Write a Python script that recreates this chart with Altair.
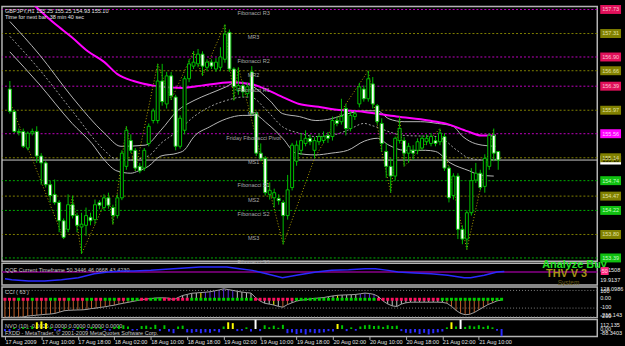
import json
import altair as alt
import pandas as pd

FONT = "Liberation Sans"
SMALL = 5.6
TXT = "#c8c8c8"
GREEN = "#00c000"

# ---------------- data ----------------
time_labels = ["17 Aug 2009", "17 Aug 10:00", "17 Aug 18:00", "18 Aug 02:00", "18 Aug 10:00",
               "18 Aug 18:00", "19 Aug 02:00", "19 Aug 10:00", "19 Aug 18:00", "20 Aug 02:00",
               "20 Aug 10:00", "20 Aug 18:00", "21 Aug 02:00", "21 Aug 10:00"]

opens = [
    156.34, 155.95, 155.60, 155.60, 155.31, 155.57, 155.60, 155.17, 155.05, 154.67,
    154.50, 154.36, 154.04, 153.89, 154.32, 154.13, 153.93, 153.96, 154.10, 154.06,
    154.36, 154.27, 154.44, 154.27, 154.13, 154.44, 154.99, 155.44, 155.27, 154.99,
    154.96, 155.39, 155.79, 155.79, 156.48, 156.08, 156.57, 156.20, 155.34, 155.62,
    156.52, 156.74, 156.78, 156.95, 156.72, 156.81, 156.69, 156.72, 156.86, 157.33,
    156.69, 156.31, 156.40, 156.26, 156.64, 155.91, 155.22, 155.13, 154.50, 154.44,
    154.43, 154.36, 154.13, 154.62, 155.08, 155.27, 155.39, 155.48, 155.27, 155.42,
    155.44, 155.53, 155.51, 155.79, 155.77, 156.00, 155.65, 155.86, 156.08, 156.34,
    156.17, 156.43, 156.05, 155.74, 155.25, 154.99, 154.82, 155.44, 155.44, 155.22,
    155.27, 155.27, 155.31, 155.42, 155.39, 155.44, 155.42, 155.51, 154.96, 154.48,
    154.82, 153.89, 153.72, 154.18, 154.75, 154.87, 154.64, 154.99, 155.53, 155.25]
closes = [
    155.95, 155.60, 155.58, 155.34, 155.57, 155.60, 155.17, 155.05, 154.67, 154.48,
    154.36, 154.04, 153.75, 154.32, 154.13, 153.96, 153.98, 154.13, 154.04, 154.32,
    154.31, 154.44, 154.31, 154.13, 154.44, 155.22, 155.62, 155.27, 154.96, 154.91,
    155.27, 155.69, 155.96, 156.48, 156.12, 156.57, 156.22, 155.34, 155.83, 156.52,
    156.78, 156.81, 156.95, 156.74, 156.81, 156.74, 156.81, 156.90, 157.30, 156.69,
    156.38, 156.40, 156.29, 156.38, 155.91, 155.22, 155.13, 154.53, 154.57, 154.53,
    154.39, 154.13, 154.58, 155.36, 155.36, 155.44, 155.48, 155.42, 155.44, 155.51,
    155.51, 155.48, 155.79, 155.74, 155.86, 155.65, 155.88, 155.91, 156.38, 156.17,
    156.52, 156.08, 155.77, 155.39, 154.99, 154.82, 155.48, 155.65, 155.22, 155.34,
    155.22, 155.42, 155.48, 155.48, 155.51, 155.39, 155.57, 154.96, 154.44, 154.82,
    153.89, 153.72, 154.18, 154.74, 154.87, 154.62, 155.13, 155.53, 155.22, 155.10]
highs = [
    156.48, 155.98, 155.65, 155.65, 155.60, 155.65, 155.69, 155.22, 155.08, 154.74,
    154.76, 154.40, 154.08, 154.50, 154.48, 154.18, 154.18, 154.27, 154.18, 154.41,
    154.40, 154.50, 154.53, 154.32, 154.50, 155.27, 155.69, 155.55, 155.31, 155.05,
    155.31, 155.74, 156.00, 156.78, 156.78, 156.64, 156.64, 156.24, 155.88, 156.57,
    156.86, 157.00, 157.04, 157.00, 156.86, 156.86, 156.88, 157.07, 157.47, 157.38,
    156.72, 156.72, 156.48, 156.45, 156.74, 155.95, 155.39, 155.17, 154.71, 154.60,
    154.50, 154.40, 154.84, 155.40, 155.44, 155.57, 155.62, 155.55, 155.50, 155.57,
    155.60, 155.59, 155.86, 155.86, 156.17, 156.08, 155.95, 155.96, 156.45, 156.40,
    156.66, 156.55, 156.08, 155.83, 155.39, 155.13, 155.51, 155.86, 155.50, 155.40,
    155.36, 155.48, 155.53, 155.55, 155.57, 155.50, 155.65, 155.57, 155.00, 154.87,
    154.87, 153.96, 154.22, 154.96, 155.05, 154.93, 155.20, 155.57, 155.65, 155.25]
lows = [
    155.91, 155.57, 155.53, 155.31, 155.27, 155.53, 155.05, 154.67, 154.62, 154.36,
    154.32, 153.84, 153.72, 153.84, 154.08, 153.84, 153.46, 153.78, 153.96, 153.98,
    154.24, 154.22, 154.25, 153.98, 154.08, 154.40, 154.93, 155.22, 154.91, 154.87,
    154.91, 155.34, 155.74, 155.74, 156.05, 156.00, 156.15, 155.27, 155.30, 155.55,
    156.46, 156.69, 156.72, 156.57, 156.65, 156.69, 156.64, 156.66, 156.80, 156.64,
    156.14, 156.24, 156.20, 156.20, 155.88, 155.17, 155.08, 154.48, 154.41, 154.27,
    154.32, 153.63, 154.06, 154.57, 155.00, 155.19, 155.34, 155.36, 155.13, 155.36,
    155.39, 155.40, 155.44, 155.69, 155.72, 155.53, 155.60, 155.80, 156.02, 156.12,
    156.12, 156.00, 155.72, 155.25, 154.79, 154.53, 154.74, 155.39, 154.99, 155.05,
    155.10, 155.20, 155.27, 155.36, 155.34, 155.34, 155.36, 154.91, 154.36, 154.41,
    153.72, 153.63, 153.54, 154.13, 154.70, 154.57, 154.53, 154.93, 155.08, 154.93]

ma_x = [5.5, 10.2, 13.9, 17.4, 21.1, 24, 27.6, 32, 38.5, 42.8, 49.3, 53.7, 60.9, 64.6, 68.9,
        71.7, 79.1, 86.3, 93.5, 97.2, 102.2, 105.2, 108.5]
ma_y = [157.80, 157.47, 157.24, 157.00, 156.81, 156.60, 156.48, 156.40, 156.36, 156.40, 156.46,
        156.43, 156.20, 156.08, 156.03, 155.99, 155.94, 155.86, 155.79, 155.74, 155.60, 155.53, 155.53]

up_x = [0, 6.5, 13.9, 21.1, 24.8, 30.2, 33.7, 37.4, 41.1, 44.6, 48.3, 50.4, 54.1, 58, 60.9, 64.6,
        68.3, 71.7, 75.4, 79.1, 82, 84.6, 88, 91.7, 95.4, 98.9, 101.1, 102.6, 105.4, 108.5]
up_y = [157.52, 156.95, 156.20, 155.57, 155.34, 155.36, 155.62, 155.96, 156.14, 156.26, 156.38,
        156.46, 156.39, 156.14, 155.91, 155.86, 155.79, 155.82, 155.91, 155.96, 155.96, 155.82,
        155.77, 155.77, 155.74, 155.69, 155.51, 155.43, 155.36, 155.34]
mid_x = [0, 6.5, 13.9, 21.1, 23.3, 26.5, 30.9, 33.7, 37.4, 41.1, 44.6, 48.3, 52, 53.7, 57.4, 60.9,
         64.6, 68.3, 71.7, 75.4, 79.1, 80.9, 88, 95.4, 99.8, 102.6, 106.3, 109.8]
mid_y = [157.26, 156.69, 155.96, 155.27, 155.13, 155.10, 155.17, 155.39, 155.60, 155.86, 156.03,
         156.14, 156.20, 156.20, 155.96, 155.68, 155.57, 155.51, 155.53, 155.62, 155.74, 155.70,
         155.53, 155.51, 155.27, 155.13, 155.10, 155.13]
lo_x = [0, 6.5, 13.9, 18.3, 21.1, 23.9, 27, 28.7, 30.9, 33.7, 37.4, 38.9, 41.1, 44.6, 48.3, 52,
        54.8, 57.4, 60.9, 63.9, 68.3, 71.7, 75.4, 79.1, 82, 84.6, 88, 92.8, 95, 98.3, 102.6, 104.8, 108]
lo_y = [156.99, 156.43, 155.74, 155.39, 155.10, 154.91, 154.87, 154.91, 154.99, 155.17, 155.22,
        155.27, 155.51, 155.68, 155.82, 155.88, 155.88, 155.74, 155.48, 155.22, 155.19, 155.22,
        155.27, 155.43, 155.48, 155.36, 155.27, 155.27, 155.25, 155.05, 154.91, 154.84, 154.82]

zz_x = [0, 12, 14, 16, 22, 23, 26, 28, 33, 36, 41, 43, 48, 50, 51, 61, 68, 75, 80, 83, 85, 87, 88,
        96, 102, 108]
zz_y = [156.12, 153.72, 154.48, 153.46, 154.49, 153.97, 155.69, 154.91, 156.78, 156.15, 157.00,
        156.57, 157.47, 156.14, 156.72, 153.63, 155.13, 156.08, 156.66, 155.25, 154.53, 155.86,
        154.99, 155.65, 153.54, 155.65]

level_names = ["Fibonacci R3", "MR3", "Fibonacci R2", "MR2", "Fibonacci R1", "MR1",
               "Friday  Fibonacci Pivot", "MS1", "Fibonacci S1", "MS2", "Fibonacci S2", "MS3",
               "Fibonacci S3"]
level_prices = [157.73, 157.31, 156.90, 156.66, 156.39, 155.97, 155.56, 155.14, 154.74, 154.47,
                154.22, 153.80, 153.39]
level_kinds = ["fibR", "mr", "fibR", "mr", "fibR", "mr", "pivot", "ms", "fibS", "ms", "fibS",
               "ms", "fibS"]
price_ticks = [157.55, 157.20, 156.85, 156.50, 156.15, 155.80, 155.45, 155.10, 154.75, 154.40,
               154.05, 153.70]
bid_price = 155.10

qqe_x = [0, 1.5, 5.2, 8.7, 12.4, 16.1, 19.6, 22.6, 26.1, 28.3, 32, 37, 42.8, 48.7, 51.5, 54.3,
         57.4, 60.9, 64.6, 68.3, 71.7, 75.4, 79.1, 81.3, 84.1, 86.3, 90, 93.5, 97.2, 100.8, 102.2,
         105.2, 108, 109.6]
qqe_y = [35.1, 32.9, 30.0, 30.0, 32.9, 37.4, 46.2, 50.0, 52.2, 52.2, 53.8, 57.3, 61.1, 61.1, 57.3,
         53.8, 46.2, 37.4, 44.0, 50.0, 53.8, 55.1, 57.3, 57.3, 53.8, 50.0, 47.8, 46.2, 42.7, 37.4,
         37.4, 42.7, 50.0, 51.5]
qqe_level = 50

cci_vals = [
    -205, -205, -205, -205, -200, -190, -185, -180, -175, -170,
    -167, -160, -145, -130, -125, -123, -121, -120, -115, -105,
    -100, -92, -85, -75, -67, -55, -45, -35, -25, -15,
    -5, 3, 8, 14, 16, 16, 12, -7, 20, 43,
    55, 68, 72, 76, 80, 85, 95, 105, 119, 110,
    101, 90, 82, 75, 70, 20, -20, -45, -55, -65,
    -80, -90, -60, -40, -20, -10, -5, 5, 10, 15,
    20, 30, 38, 45, 48, 50, 52, 55, 62, 70,
    65, 55, 30, -20, -53, -75, -82, -55, -40, -33,
    -33, -33, -33, -33, -33, -33, -35, -45, -80, -125,
    -160, -175, -170, -150, -120, -90, -60, -40, -18, -8]
cci_color_runs = [("o", 38), ("w", 5), ("y", 1), ("p", 7), ("w", 8), ("y", 1), ("w", 1), ("o", 2),
                  ("w", 10), ("y", 1), ("w", 4), ("p", 4), ("w", 15), ("o", 13)]
cci_dot_runs = [("p", 3), ("g", 1), ("p", 2), ("g", 1), ("p", 3), ("g", 2), ("p", 2), ("g", 1),
                ("p", 3), ("g", 2), ("p", 2), ("g", 3), ("p", 2), ("g", 3), ("p", 2), ("g", 3),
                ("p", 2), ("p", 4), ("g", 14), ("p", 9), ("g", 18), ("p", 14), ("g", 14)]
cci_levels = [100, -100, -200]

nvo_vals = [
    -25, -30, 15, -15, 20, 10, 30, 80, 90, 70,
    20, -20, -25, 15, 10, -15, 20, 15, -15, 25,
    10, 20, -15, -20, 25, 40, 45, 30, -20, -15,
    35, 40, 20, 50, -25, 45, -30, -50, 30, 40,
    -40, -45, -35, -50, -40, -45, -25, -40, 30, 80,
    70, -25, -20, 20, -30, 110, -25, 45, 20, 40,
    15, 50, -50, -40, -60, -45, -65, -40, -50, -45,
    -40, -25, -30, 60, 45, -25, 20, -20, 30, 45,
    50, 35, 40, 25, 45, 35, 40, -25, -45, -50,
    -40, -60, -45, -65, -50, -40, -30, 20, 80, 30,
    110, 25, 40, 30, 45, 25, 40, 20, -20, -85]
nvo_yellow = [7, 8, 9, 49, 50, 73, 98]
nvo_white = [55, 100]

# ---------------- helpers ----------------
N = len(opens)
W = 601
XS = alt.Scale(domain=[-0.652, 130.0], nice=False, zero=False)
PY = alt.Scale(domain=[153.334, 157.780], nice=False, zero=False)


def xq(field="i"):
    return alt.X(f"{field}:Q", scale=XS, axis=None)


def label(txt, x, y, color=TXT, size=SMALL, align="left", weight="normal"):
    return alt.Chart(pd.DataFrame({"t": [txt]})).mark_text(
        align=align, baseline="middle", font=FONT, fontSize=size, fontWeight=weight, color=color
    ).encode(x=alt.value(x), y=alt.value(y), text="t:N")


def expand(runs):
    out = []
    for k, n in runs:
        out += [k] * n
    return out


# ---------------- main price panel ----------------
bars = pd.DataFrame({"i": list(range(N)), "o": opens, "h": highs, "l": lows, "c": closes})
bars["fill"] = ["#000000" if c >= o else "#ffffff" for o, c in zip(opens, closes)]

LINE_COL = {"fibR": "#c000c0", "pivot": "#c000c0", "mr": "#808000", "ms": "#808000", "fibS": "#00b000"}
BOX_COL = {"fibR": "#e0105a", "pivot": "#ff00ff", "mr": "#808000", "ms": "#808000", "fibS": "#10c010"}
BOX_TXT = {"fibR": "#ffc0d0", "pivot": "#ffd0ff", "mr": "#e0e0a0", "ms": "#e0e0a0", "fibS": "#c0ffc0"}

lv = pd.DataFrame({"p": level_prices, "name": level_names, "kind": level_kinds})
lv["lc"] = [LINE_COL[k] for k in level_kinds]

price_axis = alt.Axis(orient="right", values=price_ticks, format=".2f", labelFont=FONT,
                      labelFontSize=SMALL, labelColor="#e8e8e8", labelPadding=1, tickSize=3,
                      tickColor="#b0b0b0", domain=False, grid=False, labelOverlap=False,
                      labelFlush=False, labelBound=False, title=None)

level_rules = alt.Chart(lv).mark_rule(strokeDash=[2, 2], strokeWidth=1).encode(
    y=alt.Y("p:Q", scale=PY, axis=price_axis), color=alt.Color("lc:N", scale=None))
bid_rule = alt.Chart(pd.DataFrame({"p": [bid_price]})).mark_rule(color="#c8c8c8", strokeWidth=1).encode(
    y=alt.Y("p:Q", scale=PY, axis=None))


def curve(xv, yv, **kw):
    return alt.Chart(pd.DataFrame({"i": xv, "p": yv})).mark_line(**kw).encode(
        x=xq(), y=alt.Y("p:Q", scale=PY, axis=None))


upper = curve(up_x, up_y, color="#b8b8b8", strokeWidth=1, interpolate="monotone")
middle = curve(mid_x, mid_y, color="#a0a0a0", strokeWidth=1, strokeDash=[2, 2], interpolate="monotone")
lower = curve(lo_x, lo_y, color="#b8b8b8", strokeWidth=1, interpolate="monotone")
ma = curve(ma_x, ma_y, color="#ff00ff", strokeWidth=2, interpolate="monotone", clip=True)
zig = curve(zz_x, zz_y, color="#b0a000", strokeWidth=1, strokeDash=[1, 2])

wicks = alt.Chart(bars).mark_rule(color=GREEN, strokeWidth=1).encode(
    x=xq(), y=alt.Y("l:Q", scale=PY, axis=None), y2="h:Q")
bodies = alt.Chart(bars).mark_bar(width=3, stroke=GREEN, strokeWidth=1).encode(
    x=xq(), y=alt.Y("o:Q", scale=PY, axis=None), y2="c:Q", fill=alt.Fill("fill:N", scale=None))

level_text = alt.Chart(lv).mark_text(align="center", baseline="middle", dy=4, font=FONT,
                                     fontSize=SMALL, color="#a8a8a8").encode(
    x=alt.value(254), y=alt.Y("p:Q", scale=PY, axis=None), text="name:N")

box_df = pd.DataFrame({
    "p": [bid_price] + level_prices,
    "lbl": [f"{bid_price:.2f}"] + [f"{p:.2f}" for p in level_prices],
    "bf": ["#ffffff"] + [BOX_COL[k] for k in level_kinds],
    "tc": ["#000000"] + [BOX_TXT[k] for k in level_kinds],
})
BOX = "M-1,-0.43L1,-0.43L1,0.43L-1,0.43Z"
boxes = alt.Chart(box_df).mark_point(shape=BOX, size=441, filled=True, opacity=1, strokeWidth=0).encode(
    x=alt.value(614.5), y=alt.Y("p:Q", scale=PY, axis=None), fill=alt.Fill("bf:N", scale=None))
box_text = alt.Chart(box_df).mark_text(align="center", baseline="middle", font=FONT, fontSize=SMALL).encode(
    x=alt.value(614.5), y=alt.Y("p:Q", scale=PY, axis=None), text="lbl:N",
    color=alt.Color("tc:N", scale=None))

main = alt.layer(
    level_rules, bid_rule, upper, middle, lower, ma, zig, wicks, bodies, level_text,
    label("GBPJPY,H1  155.25 155.25 154.93 155.10", 3, 4, color="#e0e0e0"),
    label("Time for next bar: 38 min 40 sec", 3, 11, color="#e0e0e0"),
    boxes, box_text,
).properties(width=W, height=257)

# ---------------- QQE panel ----------------
QS = alt.Scale(domain=[21.1, 70], nice=False, zero=False)
qqe_line = alt.Chart(pd.DataFrame({"i": qqe_x, "v": qqe_y})).mark_line(
    color="#2a2aff", strokeWidth=1.5).encode(x=xq(), y=alt.Y("v:Q", scale=QS, axis=None))
qqe_rule = alt.Chart(pd.DataFrame({"v": [qqe_level]})).mark_rule(color="#8a008a", strokeWidth=1.5).encode(
    y=alt.Y("v:Q", scale=QS, axis=None))
pink50 = alt.Chart(pd.DataFrame({"t": ["50"]})).mark_point(
    shape="M-1,-1L1,-1L1,1L-1,1Z", size=64, filled=True, opacity=1, color="#ff2a80").encode(
    x=alt.value(608.5), y=alt.value(8))
qqe = alt.layer(
    qqe_rule,
    label("QQE Current Timeframe 50.3446 46.0668 43.4230", 3, 7),
    qqe_line,
    label("Analyze Buy", 578, 2, color="#22e022", size=11, align="center", weight="bold"),
    label("THV V 3", 570, 11, color="#a89418", size=11, align="center", weight="bold"),
    label("System", 572, 20, color="#6a5a14", size=6.5, align="center"),
    label("80.1508", 604, 7, color="#e8e8e8"),
    pink50,
    label("50", 608.5, 8, color="#ffd0e0", size=5.5, align="center"),
    label("19.9137", 604, 17, color="#e8e8e8"),
).properties(width=W, height=22)

# ---------------- CCI panel ----------------
CS = alt.Scale(domain=[-208, 140], nice=False, zero=False)
CCI_COL = {"o": "#c0602a", "w": "#c8c8c8", "p": "#5a2ae0", "y": "#ffff00"}
DOT_COL = {"g": "#00d000", "p": "#ff1060"}
cci_df = pd.DataFrame({"i": list(range(N)), "v": cci_vals, "z": [0] * N})
cci_df["col"] = [CCI_COL[k] for k in expand(cci_color_runs)]
cci_df["dc"] = [DOT_COL[k] for k in expand(cci_dot_runs)]

cci_lv = alt.Chart(pd.DataFrame({"v": cci_levels})).mark_rule(
    color="#808080", strokeDash=[1, 2], strokeWidth=1).encode(y=alt.Y("v:Q", scale=CS, axis=None))
cci_hist = alt.Chart(cci_df).mark_rule(strokeWidth=1).encode(
    x=xq(), y=alt.Y("z:Q", scale=CS, axis=None), y2="v:Q", color=alt.Color("col:N", scale=None))
cci_line = alt.Chart(cci_df).mark_line(color="#a0a0a0", strokeWidth=1).encode(
    x=xq(), y=alt.Y("v:Q", scale=CS, axis=None))
cci_dots = alt.Chart(cci_df).mark_square(size=9, opacity=1).encode(
    x=xq(), y=alt.Y("z:Q", scale=CS, axis=None), color=alt.Color("dc:N", scale=None))
cci = alt.layer(
    cci_lv, cci_hist, cci_line, cci_dots,
    label("CCI ( 63 )", 3, 5),
    label("128.0986", 604, 2.5, color="#e8e8e8"),
    label("100", 604, 4, color="#e8e8e8"),
    label("0.00", 604, 11.5, color="#e8e8e8"),
    label("-100", 604, 20.5, color="#e8e8e8"),
    label("-216.143", 604, 28, color="#e8e8e8"),
    label("-200", 604, 29.5, color="#e8e8e8"),
).properties(width=W, height=31)

# ---------------- NVO panel ----------------
NS = alt.Scale(domain=[-88.34, 112.135], nice=False, zero=False)
nvo_df = pd.DataFrame({"i": list(range(N)), "v": nvo_vals, "z": [0] * N})
nvo_df["col"] = ["#ffff00" if k in nvo_yellow else "#ffffff" if k in nvo_white
                 else ("#00c800" if v > 0 else "#2a2aff") for k, v in enumerate(nvo_vals)]
label_expr = json.dumps(time_labels) + "[round(datum.value / 8)]"
x_axis = alt.Axis(values=list(range(0, 105, 8)), labelExpr=label_expr, labelAlign="left",
                  labelPadding=0, labelFont=FONT, labelFontSize=SMALL, labelColor="#e0e0e0",
                  tickSize=3, tickColor="#b0b0b0", domain=False, grid=False, labelFlush=False,
                  labelOverlap=False, labelBound=False, title=None)
nvo_bars = alt.Chart(nvo_df).mark_rule(strokeWidth=2).encode(
    x=alt.X("i:Q", scale=XS, axis=x_axis), y=alt.Y("z:Q", scale=NS, axis=None), y2="v:Q",
    color=alt.Color("col:N", scale=None))
nvo = alt.layer(
    label("NVO (10) -0.0025 0.0000 0.0000 0.0000 0.0000", 3, 6),
    nvo_bars,
    label("FXDD - MetaTrader, \u00a9 2001-2009 MetaQuotes Software Corp.", 3, 13.5),
    label("112.135", 604, 5, color="#e8e8e8"),
    label("0.00", 604, 9.5, color="#e8e8e8"),
    label("-88.3403", 604, 14, color="#e8e8e8"),
).properties(width=W, height=17)

chart = alt.vconcat(main, qqe, cci, nvo, spacing=2).resolve_scale(
    x="independent", y="independent"
).properties(
    background="#000000", bounds="flush",
    padding={"left": 0, "top": 2, "right": 0, "bottom": 0}
).configure_view(stroke="#b4b4b4", strokeWidth=1.5)

chart.save("out.html", embed_options={"renderer": "svg", "actions": False})
